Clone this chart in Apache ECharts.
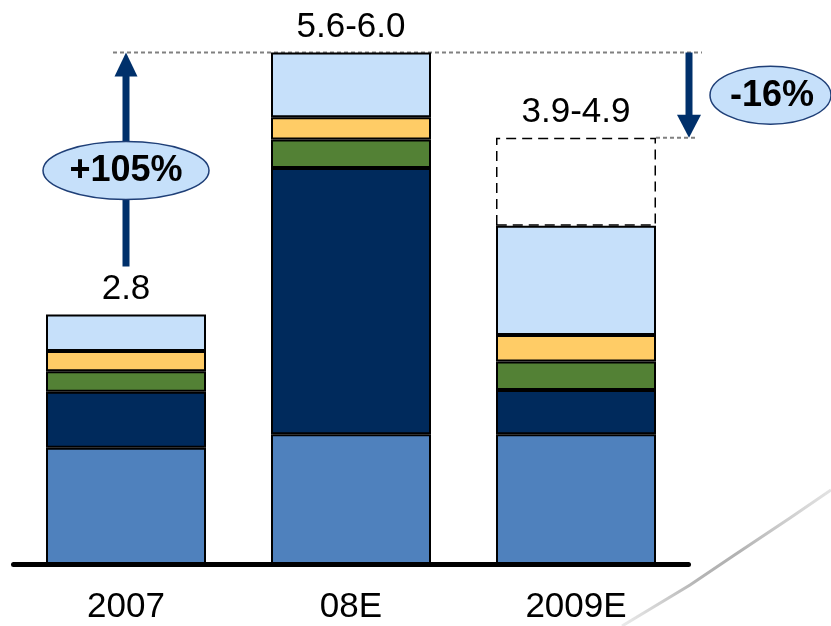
<!DOCTYPE html>
<html><head><meta charset="utf-8">
<script src="https://cdn.jsdelivr.net/npm/echarts@6/dist/echarts.min.js"></script>
<style>html,body{margin:0;padding:0;background:#fff}#c{width:831px;height:626px}</style>
</head><body><div id="c"></div>
<script>
const categories = ['2007', '08E', '2009E'];
const seriesBlue = [1.31, 1.46, 1.46];
const seriesNavy = [0.63, 3.00, 0.50];
const seriesGreen = [0.23, 0.32, 0.32];
const seriesYellow = [0.23, 0.25, 0.30];
const seriesLight = [0.41, 0.73, 1.23];
const seriesRange = [null, null, 0.99];
const totalLabels = ['2.8', '5.6-6.0', '3.9-4.9'];
const changeLabels = ['+105%', '-16%'];

const FONT = '"Liberation Sans", Arial, sans-serif';
const chart = echarts.init(document.getElementById('c'), null, {renderer: 'canvas'});

function seg(name, data, color, labelFn) {
  return {
    name: name, type: 'bar', stack: 'a', barWidth: 160, data: data,
    itemStyle: {color: color, borderColor: '#000', borderWidth: 2},
    label: labelFn ? {show: true, position: 'top', distance: 8, fontSize: 35, lineHeight: 35,
      fontFamily: FONT, color: '#000', formatter: labelFn} : {show: false},
    emphasis: {disabled: true}
  };
}

const option = {
  animation: false,
  grid: {left: 13.5, right: 142.5, top: 31.2, bottom: 62},
  xAxis: {
    type: 'category', data: categories, offset: 2,
    axisLine: {lineStyle: {color: '#000', width: 5, cap: 'round'}},
    axisTick: {show: false},
    axisLabel: {fontSize: 35, color: '#000', margin: 24, fontFamily: FONT}
  },
  yAxis: {type: 'value', min: 0, max: 6, show: false, splitLine: {show: false}},
  series: [
    seg('A', seriesBlue, '#4F81BD'),
    seg('B', seriesNavy, '#002A5C'),
    seg('C', seriesGreen, '#538135'),
    seg('D', seriesYellow, '#FFCC66'),
    seg('E', seriesLight, '#C6E0FA', p => p.dataIndex < 2 ? totalLabels[p.dataIndex] : ''),
    {
      name: 'Range', type: 'bar', stack: 'a', barWidth: 160, data: seriesRange,
      itemStyle: {color: 'rgba(0,0,0,0)', borderColor: '#000', borderWidth: 1.5, borderType: [10, 6]},
      label: {show: true, position: 'top', distance: 8, fontSize: 35, lineHeight: 35,
        fontFamily: FONT, color: '#000', formatter: p => totalLabels[p.dataIndex]},
      emphasis: {disabled: true}
    }
  ]
};
chart.setOption(option);

const tot = i => [seriesBlue, seriesNavy, seriesGreen, seriesYellow, seriesLight].reduce((a, s) => a + s[i], 0);
const p07 = chart.convertToPixel({gridIndex: 0}, [categories[0], tot(0)]);
const p08 = chart.convertToPixel({gridIndex: 0}, [categories[1], tot(1)]);
const p09 = chart.convertToPixel({gridIndex: 0}, [categories[2], tot(2) + seriesRange[2]]);
const navy = '#00306B';
const xR09 = p09[0] + 80;
const xDown = xR09 + 33;
const yMid = (p08[1] + p09[1]) / 2;

chart.setOption({
  graphic: [
    {type: 'line', z: 0, shape: {x1: 113, y1: p08[1], x2: 702, y2: p08[1]},
      style: {stroke: '#808080', lineWidth: 1.8, lineDash: [4, 3]}},
    {type: 'line', z: 0, shape: {x1: xR09, y1: p09[1], x2: 698, y2: p09[1]},
      style: {stroke: '#808080', lineWidth: 1.8, lineDash: [4, 3]}},
    {type: 'line', z: 5, shape: {x1: p07[0], y1: p07[1] - 48, x2: p07[0], y2: p08[1] + 22},
      style: {stroke: navy, lineWidth: 7}},
    {type: 'polygon', z: 5, shape: {points: [[p07[0] - 11.5, p08[1] + 24], [p07[0] + 11.5, p08[1] + 24], [p07[0], p08[1]]]},
      style: {fill: navy}},
    {type: 'ellipse', z: 6, shape: {cx: p07[0], cy: p08[1] + 118, rx: 83, ry: 29},
      style: {fill: '#C6E0FA', stroke: '#1F3F77', lineWidth: 1.5}},
    {type: 'text', z: 7, x: p07[0], y: p08[1] + 119,
      style: {text: changeLabels[0], fontSize: 36, fontWeight: 'bold', fontFamily: FONT, fill: '#000', align: 'center', verticalAlign: 'middle'}},
    {type: 'line', z: 5, shape: {x1: xDown, y1: p08[1], x2: xDown, y2: p09[1] - 21},
      style: {stroke: navy, lineWidth: 7}},
    {type: 'polygon', z: 5, shape: {points: [[xDown - 12, p09[1] - 23], [xDown + 12, p09[1] - 23], [xDown, p09[1]]]},
      style: {fill: navy}},
    {type: 'ellipse', z: 6, shape: {cx: 770.5, cy: yMid, rx: 60.5, ry: 29},
      style: {fill: '#C6E0FA', stroke: '#1F3F77', lineWidth: 1.5}},
    {type: 'text', z: 7, x: 772, y: yMid + 1,
      style: {text: changeLabels[1], fontSize: 36, fontWeight: 'bold', fontFamily: FONT, fill: '#000', align: 'center', verticalAlign: 'middle'}},
    {type: 'polyline', z: 1, shape: {points: [[622, 626], [690, 585], [733, 556], [790, 518], [831, 490]]},
      style: {fill: null, lineWidth: 3, stroke: new echarts.graphic.LinearGradient(0, 1, 1, 0, [
        {offset: 0, color: 'rgba(160,160,160,0.2)'}, {offset: 0.35, color: 'rgba(150,150,150,0.7)'},
        {offset: 0.55, color: 'rgba(170,170,170,0.9)'}, {offset: 1, color: 'rgba(200,200,200,0.5)'}])}}
  ]
});
</script></body></html>
